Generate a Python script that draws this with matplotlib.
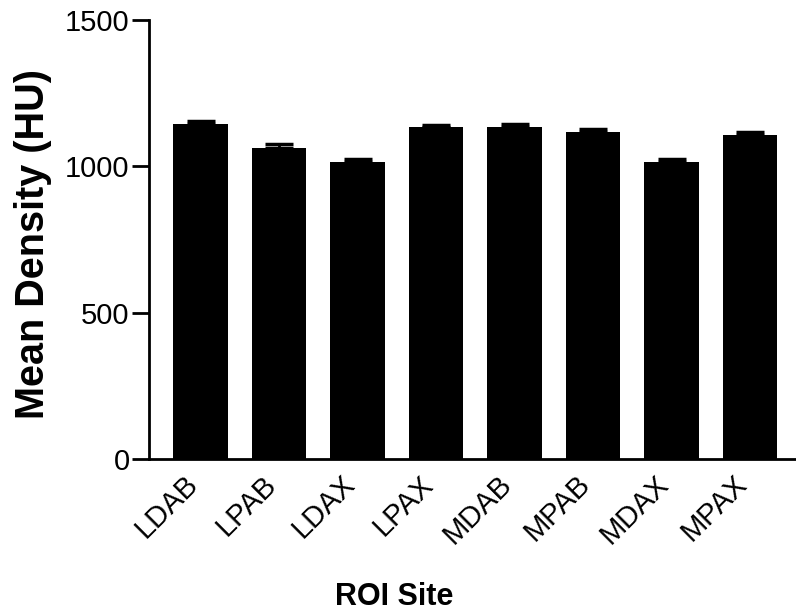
import matplotlib.pyplot as plt
import matplotlib.transforms as mtransforms
import numpy as np

plt.rcParams['font.family'] = ['Liberation Sans', 'DejaVu Sans']

sites = ["LDAB", "LPAB", "LDAX", "LPAX", "MDAB", "MPAB", "MDAX", "MPAX"]
means = [1145, 1064, 1014, 1133, 1136, 1118, 1016, 1108]
sem = [11, 11, 10, 10, 9, 10, 9, 8]

fig = plt.figure(figsize=(7.96, 6.14), dpi=100)
ax = fig.add_axes([0.1872, 0.2524, 0.8128, 0.715])

x = np.arange(len(sites))
ax.bar(x, means, width=0.7, color='black')
ax.errorbar(x, means, yerr=[np.zeros(len(sem)), sem], fmt='none',
            ecolor='black', elinewidth=2, capsize=10, capthick=2.5)

ax.set_xlim(-0.656, 7.586)
ax.set_ylim(0, 1500)
ax.set_yticks([0, 500, 1000, 1500])
ax.spines['top'].set_visible(False)
ax.spines['right'].set_visible(False)
ax.spines['left'].set_linewidth(2)
ax.spines['bottom'].set_linewidth(2)
ax.tick_params(axis='y', length=12, width=2, labelsize=21, pad=2)
ax.tick_params(axis='x', length=0, labelsize=21, pad=15)
ax.set_xticks(x)
ax.set_xticklabels(sites, rotation=45, ha='right', va='center',
                   rotation_mode='anchor')
shift = mtransforms.ScaledTranslation(-5 / 72, 0, fig.dpi_scale_trans)
for lab in ax.get_xticklabels():
    lab.set_transform(lab.get_transform() + shift)

ax.set_ylabel("Mean Density (HU)", fontsize=28.5, fontweight='bold')
ax.yaxis.set_label_coords(-0.15, 0.49)
ax.set_xlabel("ROI Site", fontsize=22, fontweight='bold')
ax.xaxis.set_label_coords(0.379, -0.28)

fig.savefig("out.png", dpi=100)
